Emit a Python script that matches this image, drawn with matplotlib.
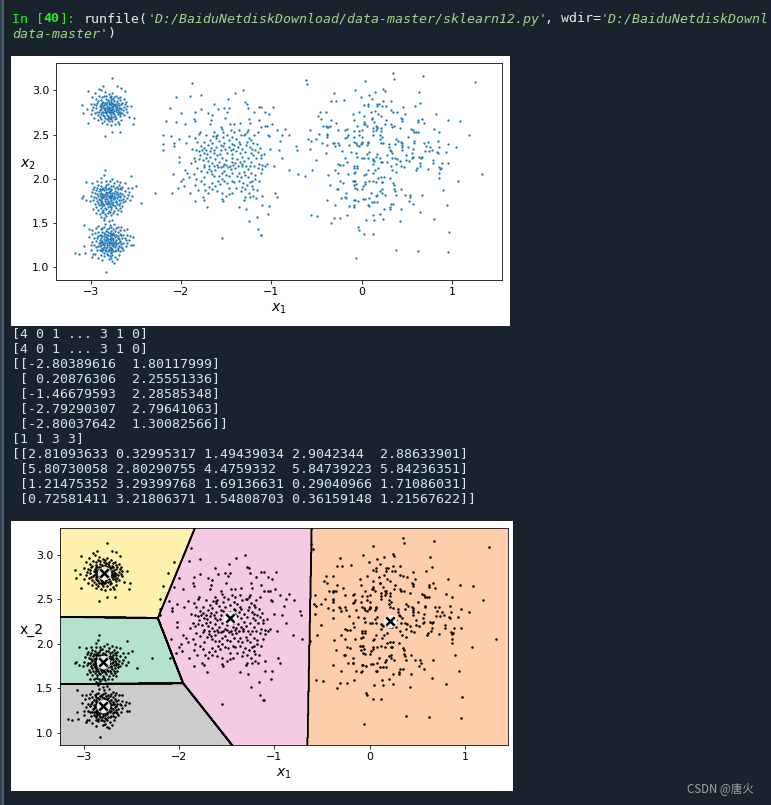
# Spyder console screenshot: blob data scatter + KMeans decision regions
import numpy as np
import matplotlib
matplotlib.use("Agg")
import matplotlib.pyplot as plt
from matplotlib.patches import Rectangle

W, H = 771, 805

# points, one list per visible cluster
right_pts = [(-.62,3.12),(-.60,3.07),(.35,3.19),(.36,3.13),(.68,3.16),(1.25,3.09),(.04,3.10),(-.07,3.00),(-.31,2.97),
    (.15,2.98),(.24,3.01),(.26,2.99),(.08,2.95),(.63,2.98),(-.01,2.92),(.11,2.90),(-.34,2.88),(-.29,2.88),(-.20,2.89),
    (.24,2.88),(.32,2.88),(.65,2.86),(.03,2.83),(.07,2.85),(.07,2.82),(.17,2.85),(.19,2.85),(.17,2.82),(.23,2.82),
    (.27,2.82),(.59,2.82),(.46,2.81),(.15,2.77),(.32,2.78),(.35,2.76),(.39,2.75),(.48,2.73),(-.10,2.73),(-.03,2.76),
    (.10,2.75),(.18,2.73),(.21,2.71),(.03,2.71),(.11,2.69),(.11,2.68),(-.46,2.76),(-.39,2.76),(-.48,2.71),(-.45,2.68),
    (-.09,2.66),(.14,2.64),(.27,2.66),(.26,2.62),(.44,2.69),(.45,2.67),(.45,2.65),(.67,2.68),(.62,2.66),(.62,2.64),
    (.69,2.63),(.82,2.73),(.95,2.66),(1.09,2.65),(.03,2.64),(.02,2.62),(.04,2.62),(.06,2.60),(-.05,2.60),(-.43,2.60),
    (-.39,2.60),(-.37,2.59),(-.35,2.60),(-.38,2.58),(-.28,2.63),(-.34,2.66),(.16,2.60),(.17,2.59),(.17,2.57),(.16,2.55),
    (.32,2.62),(.33,2.59),(.36,2.60),(.42,2.57),(.12,2.57),(.12,2.54),(.12,2.50),(.21,2.57),(.21,2.54),(-.16,2.56),
    (-.18,2.55),(-.26,2.55),(-.08,2.54),(-.03,2.54),(0,2.55),(-.57,2.55),(-.47,2.51),(-.38,2.51),(-.38,2.49),(-.38,2.47),
    (-.15,2.49),(-.16,2.47),(-.18,2.46),(-.09,2.47),(0,2.47),(-.03,2.49),(.55,2.56),(.57,2.55),(.58,2.53),(.60,2.53),
    (.62,2.53),(.80,2.56),(.86,2.53),(1.19,2.49),(-.59,2.45),(-.56,2.43),(-.51,2.45),(-.57,2.34),(-.44,2.40),(-.38,2.38),
    (-.32,2.41),(-.31,2.40),(-.30,2.37),(-.26,2.41),(-.25,2.38),(-.14,2.38),(-.08,2.42),(-.06,2.40),(-.05,2.38),(-.03,2.37),
    (-.01,2.39),(0,2.42),(0,2.40),(.07,2.42),(.07,2.40),(.06,2.38),(.20,2.49),(.22,2.47),(.20,2.45),(.21,2.41),(.24,2.40),
    (.30,2.39),(.30,2.36),(.31,2.33),(.38,2.45),(.40,2.43),(.37,2.39),(.44,2.42),(.45,2.40),(.45,2.38),(.45,2.36),(.45,2.33),
    (.51,2.36),(.51,2.47),(.58,2.43),(.58,2.41),(.57,2.34),(.69,2.41),(.73,2.42),(.71,2.37),(.70,2.31),(.74,2.31),(.76,2.36),
    (.78,2.32),(.85,2.36),(.84,2.43),(.96,2.39),(1.04,2.36),(.93,2.30),(.84,2.29),(.83,2.30),(-.39,2.29),(-.22,2.31),(-.12,2.30),
    (-.06,2.29),(-.05,2.25),(0,2.24),(.02,2.24),(-.18,2.24),(-.16,2.19),(-.26,2.17),(-.24,2.16),(-.21,2.16),(-.51,2.21),
    (-.08,2.15),(-.05,2.15),(-.08,2.12),(-.05,2.12),(-.07,2.08),(-.09,2.07),(.06,2.28),(.08,2.30),(.07,2.24),(.12,2.22),
    (.13,2.21),(.12,2.17),(.14,2.20),(.16,2.25),(.17,2.28),(.20,2.23),(.21,2.19),(.23,2.19),(.18,2.12),(.13,2.07),(.15,2.10),
    (.07,2.10),(.05,2.05),(.03,2.04),(.28,2.27),(.32,2.31),(.34,2.29),(.33,2.23),(.37,2.24),(.39,2.22),(.42,2.20),(.38,2.17),
    (.32,2.14),(.28,2.19),(.34,2.10),(.38,2.08),(.43,2.15),(.47,2.13),(.49,2.21),(.52,2.20),(.49,2.27),(.56,2.29),(.57,2.25),
    (.56,2.23),(.63,2.25),(.66,2.23),(.67,2.25),(.65,2.18),(.64,2.15),(.61,2.12),(.60,2.10),(.73,2.11),(.85,2.13),(.79,2.21),
    (.79,2.18),(.89,2.18),(.96,2.18),(.88,2.12),(.87,2.11),(.86,2.06),(.86,2.01),(1.07,1.97),(1.33,2.05),(-.37,2.04),(-.30,2.10),
    (-.26,2.06),(-.15,2.05),(-.08,1.98),(-.09,1.93),(-.10,1.98),(-.07,1.98),(-.06,1.94),(-.07,1.90),(-.05,1.89),(.01,1.92),
    (0,1.89),(.04,1.96),(.04,1.94),(.08,1.97),(.12,1.98),(.18,2.01),(.16,1.96),(.25,2.02),(.31,2.01),(.21,2.02),(.23,1.96),
    (.22,1.96),(-.35,1.93),(-.27,1.88),(-.26,1.88),(-.24,1.97),(-.21,1.95),(-.38,1.76),(-.30,1.70),(-.23,1.78),(-.17,1.84),
    (-.18,1.79),(-.17,1.78),(-.14,1.69),(-.09,1.68),(-.08,1.70),(-.08,1.76),(-.07,1.76),(-.04,1.75),(.01,1.77),(.04,1.77),
    (.08,1.78),(.10,1.84),(.16,1.80),(.17,1.82),(.20,1.86),(.22,1.88),(.22,1.84),(.26,1.82),(.35,1.95),(.36,1.93),(.36,1.89),
    (.37,1.86),(.38,1.82),(.43,1.88),(.48,1.82),(.53,1.82),(.54,1.79),(.52,1.75),(.57,1.72),(.67,1.82),(.90,1.87),(.94,1.70),
    (.65,1.62),(.80,1.55),(.97,1.40),(.96,1.17),(.62,1.18),(.38,1.19),(-.06,1.10),(.12,1.38),(.03,1.38),(-.03,1.42),(-.04,1.45),
    (-.34,1.50),(-.31,1.56),(-.24,1.56),(-.16,1.59),(-.56,1.59),(-.49,1.58),(.05,1.54),(.13,1.59),(.14,1.54),(.20,1.60),(.24,1.55),
    (.42,1.52),(.43,1.66),(.31,1.66),(.31,1.68),(.32,1.72),(.35,1.72),(.25,1.66),(.11,1.74),(.14,1.74),(.17,1.74),(.08,1.69),(.07,1.70)]

middle_pts = [(-1.88,3.08),(-2.06,2.92),(-1.90,2.93),(-1.78,2.95),(-1.31,3.00),(-1.40,2.97),(-1.48,2.90),(-1.63,2.85),(-2.12,2.80),
    (-2.00,2.74),(-1.85,2.75),(-1.78,2.79),(-1.70,2.74),(-1.59,2.79),(-1.52,2.80),(-1.47,2.80),(-1.49,2.76),(-1.29,2.87),(-1.27,2.85),
    (-1.26,2.80),(-1.14,2.81),(-2.17,2.65),(-2.06,2.64),(-1.96,2.62),(-1.86,2.68),(-1.85,2.65),(-1.66,2.72),(-1.67,2.66),(-1.68,2.62),
    (-1.51,2.69),(-1.19,2.75),(-1.25,2.68),(-1.24,2.63),(-1.35,2.63),(-1.41,2.62),(-1.14,2.66),(-2.20,2.50),(-2.20,2.39),(-2.20,2.32),
    (-2.11,2.48),(-2.08,2.40),(-2.08,2.37),(-2.02,2.45),(-2.02,2.25),(-2.02,2.19),(-1.95,2.41),(-1.91,2.48),(-1.88,2.34),(-1.85,2.46),
    (-1.80,2.51),(-1.79,2.53),(-1.72,2.49),(-1.63,2.53),(-1.61,2.48),(-1.61,2.46),(-1.60,2.49),(-1.56,2.59),(-1.55,2.56),(-1.53,2.53),
    (-1.46,2.62),(-1.45,2.55),(-1.41,2.53),(-1.36,2.55),(-1.30,2.50),(-1.29,2.51),(-1.27,2.53),(-1.26,2.55),(-1.15,2.53),(-1.19,2.49),
    (-.98,2.81),(-1.11,2.81),(-1.07,2.75),(-1.03,2.73),(-.99,2.62),(-1.05,2.60),(-1.11,2.59),(-1.07,2.60),(-.85,2.56),(-.94,2.55),
    (-.88,2.50),(-.80,2.49),(-1.04,2.49),(-1.03,2.48),(-.90,2.43),(-.73,2.37),(-.72,2.32),(-1.01,2.34),(-.92,2.33),(-.88,2.23),
    (-1.08,2.28),(-1.12,2.27),(-1.12,2.23),(-1.05,2.17),(-1.07,2.15),(-1.10,2.16),(-.97,2.14),(-.81,2.10),(-.71,2.05),(-.63,2.03),
    (-.55,2.10),(-1.10,2.11),(-1.12,2.06),(-.96,1.84),(-.94,1.79),(-1.10,1.81),(-1.10,1.70),(-1.03,1.69),(-1.04,1.60),(-1.12,1.37),
    (-1.83,2.32),(-1.80,2.31),(-1.77,2.32),(-1.74,2.29),(-1.72,2.33),(-1.68,2.31),(-1.63,2.29),(-1.60,2.27),(-1.56,2.32),(-1.51,2.34),
    (-1.45,2.33),(-1.43,2.39),(-1.41,2.38),(-1.43,2.28),(-1.44,2.24),(-1.86,2.24),(-1.84,2.20),(-1.80,2.22),(-1.76,2.21),(-1.72,2.24),
    (-1.70,2.20),(-1.68,2.25),(-1.66,2.18),(-1.62,2.22),(-1.58,2.19),(-1.55,2.24),(-1.52,2.17),(-1.50,2.21),(-1.46,2.15),(-1.48,2.13),
    (-1.38,2.22),(-1.35,2.19),(-1.32,2.25),(-1.30,2.20),(-1.26,2.24),(-1.22,2.19),(-1.20,2.27),(-1.17,2.23),(-1.15,2.30),(-1.32,2.34),
    (-1.28,2.38),(-1.24,2.36),(-1.20,2.41),(-1.16,2.39),(-1.36,2.42),(-1.39,2.45),(-1.47,2.44),(-1.52,2.41),(-1.58,2.43),(-1.66,2.40),
    (-1.70,2.38),(-1.75,2.42),(-1.78,2.37),(-1.82,2.42),(-1.96,2.10),(-1.93,2.07),(-1.91,2.02),(-1.98,2.00),(-2.09,2.05),(-2.00,1.97),
    (-1.97,1.92),(-2.03,1.90),(-2.10,1.84),(-1.90,1.84),(-1.85,1.93),(-1.81,1.87),(-1.78,1.98),(-1.74,2.02),(-1.71,2.08),(-1.69,2.11),
    (-1.66,2.05),(-1.62,2.10),(-1.59,2.13),(-1.58,2.03),(-1.52,2.09),(-1.47,2.03),(-1.43,2.07),(-1.40,2.12),(-1.36,2.07),(-1.33,2.14),
    (-1.30,2.08),(-1.26,2.11),(-1.22,2.07),(-1.18,2.04),(-1.15,2.12),(-1.14,1.98),(-1.21,1.98),(-1.26,2.02),(-1.31,1.95),(-1.36,1.98),
    (-1.41,1.96),(-1.47,1.90),(-1.52,1.97),(-1.57,1.94),(-1.62,1.92),(-1.66,1.95),(-1.69,1.91),(-1.73,1.87),(-1.70,1.84),(-1.66,1.88),
    (-1.60,1.86),(-1.55,1.84),(-1.50,1.81),(-1.44,1.84),(-1.39,1.90),(-1.34,1.86),(-1.29,1.88),(-1.25,1.84),(-1.20,1.89),(-1.16,1.87),
    (-1.76,1.79),(-1.74,1.76),(-1.71,1.68),(-1.85,1.75),(-1.55,1.77),(-1.54,1.75),(-1.47,1.83),(-1.29,1.79),(-1.30,1.76),(-1.24,1.79),
    (-1.20,1.81),(-1.36,1.68),(-1.28,1.66),(-1.16,1.57),(-1.55,1.33),(-1.15,1.43),(-1.11,1.37),(-1.25,1.52),(-1.17,1.78),
    (-1.79,2.27),(-1.75,2.35),(-1.71,2.28),(-1.67,2.35),(-1.64,2.33),(-1.61,2.36),(-1.57,2.28),(-1.54,2.37),(-1.49,2.29),(-1.47,2.36),
    (-1.42,2.34),(-1.39,2.31),(-1.37,2.36),(-1.35,2.29),(-1.29,2.30),(-1.27,2.42),(-1.23,2.29),(-1.21,2.34),(-1.18,2.33),(-1.13,2.35),
    (-1.89,2.18),(-1.74,2.16),(-1.69,2.14),(-1.64,2.15),(-1.60,2.16),(-1.56,2.13),(-1.54,2.15),(-1.50,2.16),(-1.44,2.19),(-1.42,2.16),
    (-1.40,2.18),(-1.37,2.14),(-1.33,2.17),(-1.28,2.15),(-1.24,2.14),(-1.19,2.15),(-1.14,2.17),(-1.82,2.12),(-1.78,2.09),(-1.75,2.13),
    (-1.67,2.09),(-1.63,2.03),(-1.55,2.07),(-1.50,2.04),(-1.45,2.11),(-1.38,2.03),(-1.34,2.02),(-1.29,2.04),(-1.24,1.96),(-1.18,2.00),
    (-1.86,2.05),(-1.83,2.00),(-1.75,1.94),(-1.59,1.98),(-1.55,2.00),(-1.49,1.95),(-1.44,1.98),(-1.33,1.91),(-1.27,1.93),(-1.21,1.92),
    (-1.65,2.48),(-1.54,2.47),(-1.49,2.50),(-1.43,2.47),(-1.34,2.49),(-1.25,2.46),(-1.22,2.44),(-1.68,2.44),(-1.56,2.38),(-1.35,2.39)]

upper_blob = [(-2.76,3.14),(-2.86,3.05),(-2.91,3.02),(-3.03,2.99),(-2.71,3.05),(-2.62,2.99),(-2.66,3.03),(-3.10,2.83),(-3.08,2.74),
    (-3.03,2.63),(-2.96,2.69),(-2.84,2.48),(-2.76,2.53),(-2.68,2.53),(-2.53,2.62),(-2.52,2.69),(-2.55,2.82),(-2.60,2.82),
    (-2.95,2.97),(-2.89,3.00),(-2.84,2.98),(-2.80,2.96),(-2.76,2.97),(-2.72,2.94),(-2.68,2.92),(-2.63,2.90),(-2.61,2.87),(-2.98,2.92),
    (-2.94,2.90),(-2.91,2.93),(-2.87,2.92),(-2.83,2.90),(-2.79,2.92),(-2.75,2.90),(-2.71,2.88),(-2.67,2.89),(-3.00,2.85),(-2.96,2.84),
    (-2.93,2.86),(-2.90,2.82),(-2.87,2.86),(-2.85,2.83),(-2.82,2.87),(-2.80,2.84),(-2.77,2.87),(-2.75,2.84),(-2.72,2.85),(-2.69,2.83),
    (-2.66,2.84),(-2.63,2.81),(-3.04,2.79),(-2.98,2.78),(-2.94,2.80),(-2.91,2.76),(-2.88,2.79),(-2.86,2.76),(-2.84,2.80),(-2.82,2.77),
    (-2.80,2.81),(-2.78,2.78),(-2.76,2.81),(-2.74,2.77),(-2.72,2.80),(-2.70,2.78),(-2.68,2.76),(-2.64,2.78),(-2.60,2.76),(-3.00,2.73),
    (-2.95,2.74),(-2.92,2.72),(-2.88,2.73),(-2.85,2.71),(-2.83,2.74),(-2.81,2.71),(-2.79,2.74),(-2.77,2.72),(-2.75,2.74),(-2.73,2.71),
    (-2.70,2.73),(-2.67,2.71),(-2.63,2.72),(-2.58,2.70),(-2.92,2.66),(-2.88,2.67),(-2.85,2.65),(-2.82,2.68),(-2.80,2.65),(-2.78,2.68),
    (-2.76,2.65),(-2.73,2.67),(-2.70,2.64),(-2.66,2.66),(-2.82,2.62),(-2.78,2.61),(-2.73,2.62),(-2.69,2.62),(-2.87,2.63),(-2.83,2.84),
    (-2.81,2.79),(-2.79,2.76),(-2.77,2.83),(-2.84,2.78),(-2.75,2.79),(-2.86,2.81),(-2.73,2.82),(-2.89,2.84),(-2.71,2.75),(-2.80,2.70),
    (-2.92,2.88),(-2.88,2.89),(-2.85,2.94),(-2.81,2.89),(-2.78,2.94),(-2.74,2.92),(-2.70,2.91),(-2.65,2.86),(-2.89,2.81),(-2.87,2.83),
    (-2.84,2.86),(-2.82,2.82),(-2.79,2.85),(-2.78,2.89),(-2.76,2.86),(-2.74,2.88),(-2.73,2.85),(-2.71,2.82),(-2.70,2.86),(-2.68,2.80),
    (-2.66,2.79),(-2.90,2.78),(-2.87,2.75),(-2.85,2.79),(-2.83,2.76),(-2.82,2.80),(-2.80,2.78),(-2.79,2.80),(-2.77,2.77),(-2.76,2.79),
    (-2.74,2.83),(-2.72,2.78),(-2.71,2.80),(-2.69,2.76),(-2.93,2.75),(-2.90,2.70),(-2.86,2.72),(-2.84,2.75),(-2.82,2.72),(-2.80,2.75),
    (-2.78,2.70),(-2.76,2.76),(-2.74,2.73),(-2.72,2.69),(-2.68,2.73),(-2.65,2.74),(-2.84,2.69),(-2.81,2.67),(-2.79,2.69),(-2.75,2.70),
    (-2.86,2.87),(-2.80,2.87),(-2.75,2.82),(-2.69,2.80),(-2.94,2.83),(-2.97,2.81),(-2.62,2.84),(-2.61,2.79),(-2.83,2.93),(-2.77,2.91)]

lower_a_blob = [(-2.84,2.10),(-2.85,2.04),(-2.88,2.01),(-2.76,2.00),(-2.71,1.98),(-2.67,1.96),(-2.62,1.95),(-2.55,2.03),(-3.05,1.96),
    (-2.98,1.95),(-2.93,1.97),(-2.88,1.96),(-2.83,1.97),(-2.79,1.98),(-2.74,1.95),(-2.69,1.93),(-2.65,1.91),(-2.59,1.90),(-2.54,1.90),
    (-2.50,1.92),(-2.97,1.89),(-2.93,1.90),(-2.89,1.92),(-2.86,1.90),(-2.83,1.93),(-2.80,1.90),(-2.77,1.92),(-2.73,1.90),(-2.70,1.88),
    (-2.66,1.88),(-2.62,1.86),(-2.57,1.85),(-2.99,1.85),(-2.95,1.84),(-2.91,1.86),(-2.88,1.84),(-2.85,1.87),(-2.82,1.84),(-2.79,1.86),
    (-2.76,1.84),(-2.73,1.86),(-2.70,1.83),(-2.67,1.84),(-2.63,1.81),(-2.59,1.82),(-2.54,1.80),(-3.08,1.80),(-3.10,1.78),(-3.00,1.80),
    (-2.96,1.79),(-2.92,1.81),(-2.89,1.79),(-2.86,1.82),(-2.83,1.79),(-2.80,1.81),(-2.77,1.79),(-2.74,1.81),(-2.71,1.78),(-2.67,1.79),
    (-2.64,1.77),(-2.60,1.78),(-2.56,1.76),(-3.05,1.76),(-3.01,1.75),(-2.97,1.76),(-2.93,1.75),(-2.90,1.76),(-2.87,1.74),(-2.84,1.77),
    (-2.81,1.75),(-2.78,1.76),(-2.75,1.74),(-2.72,1.75),(-2.68,1.73),(-2.64,1.74),(-2.44,1.73),(-2.29,1.84),(-2.95,1.71),(-2.91,1.70),
    (-2.88,1.72),(-2.85,1.70),(-2.82,1.71),(-2.79,1.69),(-2.76,1.71),(-2.73,1.69),(-2.69,1.70),(-2.65,1.69),(-2.97,1.66),(-2.92,1.65),
    (-2.89,1.67),(-2.86,1.65),(-2.83,1.66),(-2.80,1.64),(-2.77,1.66),(-2.74,1.64),(-2.70,1.65),(-2.66,1.64),(-2.94,1.61),(-2.90,1.60),
    (-2.87,1.62),(-2.84,1.60),(-2.81,1.61),(-2.78,1.59),(-2.75,1.61),(-2.71,1.60),(-2.88,1.57),(-2.85,1.56),(-2.83,1.58),
    (-2.84,1.83),(-2.81,1.88),(-2.78,1.82),(-2.75,1.78),(-2.87,1.78),(-2.90,1.83),(-2.72,1.83),(-2.82,1.73),(-2.79,1.84),(-2.83,1.85),
    (-2.92,1.93),(-2.87,1.88),(-2.84,1.91),(-2.81,1.94),(-2.78,1.89),(-2.75,1.92),(-2.71,1.91),(-2.68,1.90),(-2.94,1.87),(-2.90,1.89),
    (-2.88,1.87),(-2.83,1.88),(-2.80,1.85),(-2.77,1.87),(-2.74,1.84),(-2.71,1.85),(-2.68,1.81),(-2.65,1.83),(-2.93,1.83),(-2.89,1.81),
    (-2.87,1.83),(-2.85,1.80),(-2.82,1.82),(-2.80,1.79),(-2.78,1.80),(-2.76,1.82),(-2.73,1.79),(-2.70,1.80),(-2.66,1.76),(-2.94,1.78),
    (-2.91,1.77),(-2.88,1.76),(-2.86,1.79),(-2.84,1.75),(-2.82,1.77),(-2.80,1.74),(-2.79,1.78),(-2.77,1.76),(-2.74,1.77),(-2.72,1.74),
    (-2.69,1.76),(-2.62,1.75),(-2.92,1.73),(-2.89,1.74),(-2.86,1.72),(-2.83,1.73),(-2.80,1.71),(-2.78,1.73),(-2.75,1.70),(-2.71,1.72),
    (-2.94,1.68),(-2.87,1.69),(-2.84,1.67),(-2.81,1.68),(-2.78,1.68),(-2.72,1.67),(-2.68,1.67),(-2.86,1.62),(-2.79,1.62),(-2.96,1.91)]

lower_b_blob = [(-2.83,.95),(-2.80,1.52),(-2.76,1.53),(-2.85,1.54),(-3.07,1.48),(-2.92,1.47),(-2.84,1.49),(-2.79,1.48),(-2.74,1.49),
    (-2.70,1.46),(-2.66,1.45),(-3.02,1.43),(-2.98,1.42),(-2.94,1.44),(-2.89,1.43),(-2.85,1.45),(-2.82,1.43),(-2.78,1.45),(-2.75,1.43),
    (-2.72,1.44),(-2.68,1.42),(-2.63,1.42),(-2.60,1.43),(-2.99,1.38),(-2.95,1.39),(-2.90,1.37),(-2.87,1.40),(-2.84,1.38),(-2.81,1.40),
    (-2.78,1.38),(-2.75,1.39),(-2.72,1.37),(-2.68,1.38),(-2.64,1.37),(-2.60,1.36),(-2.56,1.35),(-2.53,1.34),(-3.02,1.34),(-2.96,1.33),
    (-2.92,1.35),(-2.88,1.33),(-2.85,1.35),(-2.82,1.33),(-2.79,1.35),(-2.76,1.33),(-2.73,1.34),(-2.69,1.32),(-2.65,1.33),(-2.61,1.31),
    (-2.57,1.31),(-2.98,1.29),(-2.94,1.30),(-2.90,1.28),(-2.87,1.30),(-2.84,1.28),(-2.81,1.30),(-2.78,1.28),(-2.75,1.30),(-2.72,1.28),
    (-2.68,1.29),(-2.64,1.27),(-2.60,1.28),(-2.55,1.25),(-2.53,1.25),(-3.07,1.24),(-3.00,1.25),(-2.96,1.25),(-2.92,1.24),(-2.88,1.25),
    (-2.85,1.23),(-2.82,1.25),(-2.79,1.23),(-2.76,1.25),(-2.73,1.23),(-2.69,1.24),(-2.65,1.22),(-2.61,1.24),(-3.17,1.16),(-3.13,1.15),
    (-3.06,1.16),(-3.00,1.20),(-2.97,1.15),(-2.93,1.19),(-2.90,1.20),(-2.87,1.18),(-2.84,1.20),(-2.81,1.18),(-2.78,1.20),(-2.75,1.18),
    (-2.72,1.19),(-2.68,1.18),(-2.64,1.20),(-2.98,1.12),(-2.95,1.15),(-2.92,1.11),(-2.88,1.14),(-2.85,1.13),(-2.82,1.15),(-2.79,1.13),
    (-2.76,1.14),(-2.73,1.12),(-2.69,1.14),(-2.87,1.08),(-2.80,1.09),(-2.76,1.07),(-2.74,1.05),(-2.78,1.10),(-2.71,1.09),
    (-2.83,1.31),(-2.80,1.27),(-2.77,1.31),(-2.74,1.26),(-2.86,1.26),(-2.82,1.36),(-2.79,1.32),(-2.76,1.36),(-2.83,1.22),(-2.80,1.21),
    (-2.87,1.44),(-2.83,1.41),(-2.80,1.44),(-2.77,1.41),(-2.73,1.41),(-2.70,1.40),(-2.92,1.40),(-2.88,1.37),(-2.85,1.39),(-2.81,1.37),
    (-2.79,1.39),(-2.76,1.38),(-2.74,1.36),(-2.70,1.35),(-2.66,1.36),(-2.93,1.33),(-2.90,1.31),(-2.87,1.35),(-2.85,1.32),(-2.83,1.34),
    (-2.81,1.32),(-2.78,1.33),(-2.75,1.32),(-2.72,1.31),(-2.70,1.33),(-2.67,1.30),(-2.62,1.33),(-2.91,1.27),(-2.89,1.29),(-2.86,1.28),
    (-2.84,1.30),(-2.82,1.27),(-2.79,1.29),(-2.77,1.27),(-2.75,1.28),(-2.73,1.29),(-2.70,1.27),(-2.66,1.26),(-2.94,1.23),(-2.90,1.24),
    (-2.87,1.22),(-2.85,1.25),(-2.82,1.23),(-2.80,1.25),(-2.77,1.22),(-2.75,1.24),(-2.72,1.25),(-2.70,1.22),(-2.66,1.23),(-2.88,1.19),
    (-2.86,1.21),(-2.83,1.18),(-2.80,1.19),(-2.78,1.17),(-2.76,1.21),(-2.73,1.18),(-2.70,1.19),(-2.85,1.16),(-2.81,1.14),(-2.77,1.16)]

# printed by the script in the console
centers_x = [-2.80389616, 0.20876306, -1.46679593, -2.79290307, -2.80037642]
centers_y = [1.80117999, 2.25551336, 2.28585348, 2.79641063, 1.30082566]

x_ticks = [-3, -2, -1, 0, 1]
y_ticks = [1.0, 1.5, 2.0, 2.5, 3.0]

console_lines = [
    "[4 0 1 ... 3 1 0]",
    "[4 0 1 ... 3 1 0]",
    "[[-2.80389616  1.80117999]",
    " [ 0.20876306  2.25551336]",
    " [-1.46679593  2.28585348]",
    " [-2.79290307  2.79641063]",
    " [-2.80037642  1.30082566]]",
    "[1 1 3 3]",
    "[[2.81093633 0.32995317 1.49439034 2.9042344  2.88633901]",
    " [5.80730058 2.80290755 4.4759332  5.84739223 5.84236351]",
    " [1.21475352 3.29399768 1.69136631 0.29040966 1.71086031]",
    " [0.72581411 3.21806371 1.54808703 0.36159148 1.21567622]]",
]

X = np.array(right_pts + middle_pts + upper_blob + lower_a_blob + lower_b_blob)
centers = np.column_stack([centers_x, centers_y])

fig = plt.figure(figsize=(W / 72, H / 72), dpi=72, facecolor="#19232d")


def px_axes(left, top, right, bottom):
    return fig.add_axes([left / W, 1 - bottom / H, (right - left) / W, (bottom - top) / H])


def panel(left, top, right, bottom, color="white"):
    fig.add_artist(Rectangle((left / W, 1 - bottom / H), (right - left) / W, (bottom - top) / H,
                             transform=fig.transFigure, facecolor=color, edgecolor="none", zorder=0))


def console(x, y, s, color="#d3e6f0", **kw):
    fig.text(x / W, 1 - y / H, s, color=color, family="DejaVu Sans Mono", fontsize=13.2, va="center", ha="left", **kw)


panel(0, 0, 2, H, "#32414b")
panel(2, 0, 4, H, "#4e5f6e")
panel(11, 56, 510, 326)
panel(11, 521, 513, 791)

# top chart: raw data
ax = px_axes(56.3, 63.3, 502.3, 280.3)
ax.scatter(X[:, 0], X[:, 1], s=1.6)
ax.set_xlim(-3.38, 1.556)
ax.set_ylim(0.853, 3.305)
ax.set_xticks(x_ticks)
ax.set_yticks(y_ticks)
ax.tick_params(labelsize=11)
ax.set_xlabel("$x_1$", fontsize=14)
ax.set_ylabel("$x_2$", fontsize=14, rotation=0)

# bottom chart: decision regions of the fitted centers
ax2 = px_axes(60.3, 528.3, 507.7, 745.3)
xx, yy = np.meshgrid(np.linspace(-3.25, 1.45, 1000), np.linspace(0.86, 3.3, 1000))
dist = (xx[..., None] - centers[:, 0]) ** 2 + (yy[..., None] - centers[:, 1]) ** 2
Z = dist.argmin(axis=2)
ax2.contourf(xx, yy, Z, cmap="Pastel2")
ax2.contour(xx, yy, Z, linewidths=1.5, colors="k")
ax2.plot(X[:, 0], X[:, 1], "k.", markersize=3)
ax2.scatter(centers[:, 0], centers[:, 1], marker="o", s=30, linewidths=8, color="w", zorder=10, alpha=0.9)
ax2.scatter(centers[:, 0], centers[:, 1], marker="x", s=70, linewidths=2.5, color="k", zorder=11)
ax2.set_xlim(-3.25, 1.45)
ax2.set_ylim(0.86, 3.3)
ax2.set_xticks(x_ticks)
ax2.set_yticks(y_ticks)
ax2.tick_params(labelsize=11)
ax2.set_xlabel("$x_1$", fontsize=14)
ax2.set_ylabel("x_2", fontsize=14, rotation=0)

# console text
cw = 7.95
console(12, 19, "In [", color="#22ee22")
console(12 + 4 * cw, 19, "40", color="#22ee22", weight="bold")
console(12 + 6 * cw, 19, "]:", color="#22ee22")
console(12 + 9 * cw, 19, "runfile(", color="#e8eef2")
console(12 + 17 * cw, 19, "'D:/BaiduNetdiskDownload/data-master/sklearn12.py'", color="#a5d28c", style="italic")
console(12 + 67 * cw, 19, ", wdir=", color="#e8eef2")
console(12 + 74 * cw, 19, "'D:/BaiduNetdiskDownl", color="#a5d28c", style="italic")
console(12, 34, "data-master'", color="#a5d28c", style="italic")
console(12 + 12 * cw, 34, ")", color="#e8eef2")
for i, line in enumerate(console_lines):
    console(12, 334 + 15 * i, line)

fig.text(687 / W, 1 - 789 / H, "CSDN @唐火", color="#a0a4a8", fontsize=11.5, va="center",
         family=["Noto Sans CJK SC", "DejaVu Sans"])

fig.savefig("out.png", dpi=72, facecolor=fig.get_facecolor())
